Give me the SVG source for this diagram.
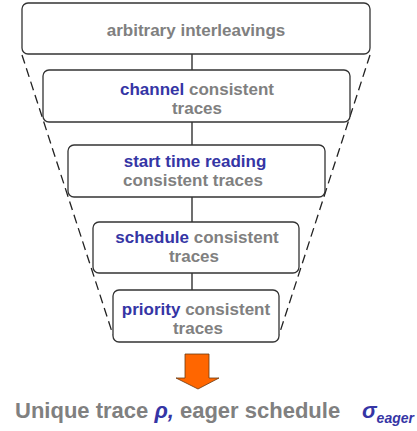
<svg xmlns="http://www.w3.org/2000/svg" width="417" height="431" viewBox="0 0 417 431">
<style>
.box{fill:#fff;stroke:#333;stroke-width:1.3}
.t{font-family:"Liberation Sans",Arial,sans-serif;font-weight:bold;font-size:17px;fill:#808080;text-anchor:middle}
.b{fill:#3535a5}
.conn{stroke:#222;stroke-width:1.3;fill:none}
.dash{stroke:#222;stroke-width:1.3;fill:none;stroke-dasharray:9,5}
</style>
<rect width="417" height="431" fill="#fff"/>
<g id="connectors">
<path class="dash" d="M22,55 L113,335"/>
<path class="dash" d="M370,55 L279,335"/>
<path class="conn" d="M192,54 V70 M192,122 V145 M192,197 V222 M192,273 V290"/>
</g>
<g id="n1">
<rect class="box" x="22" y="3" width="348" height="51" rx="6"/>
<text class="t" x="196" y="36">arbitrary interleavings</text>
</g>
<g id="n2">
<rect class="box" x="43" y="70" width="307" height="52" rx="6"/>
<text class="t" x="197" y="95"><tspan class="b">channel</tspan> consistent</text>
<text class="t" x="197" y="114">traces</text>
</g>
<g id="n3">
<rect class="box" x="68" y="145" width="257" height="52" rx="6"/>
<text class="t" x="195" y="167"><tspan class="b">start time reading</tspan></text>
<text class="t" x="193" y="186">consistent traces</text>
</g>
<g id="n4">
<rect class="box" x="93" y="222" width="206" height="51" rx="6"/>
<text class="t" x="197" y="243"><tspan class="b">schedule</tspan> consistent</text>
<text class="t" x="194" y="262">traces</text>
</g>
<g id="n5">
<rect class="box" x="113" y="290" width="166" height="52" rx="6"/>
<text class="t" x="196" y="315"><tspan class="b">priority</tspan> consistent</text>
<text class="t" x="198" y="334">traces</text>
</g>
<g id="arrow">
<path d="M185,354 H209 V378 H219 L198,389 L176,378 H185 Z" fill="#ff6600" stroke="#6b3a10" stroke-width="0.8"/>
</g>
<g id="result">
<text x="15" y="418" font-family="'Liberation Sans',Arial,sans-serif" font-weight="bold" font-size="22" fill="#808080">Unique trace <tspan fill="#3535a5" font-style="italic">ρ,</tspan> eager schedule</text>
<text x="362" y="418" font-family="'Liberation Sans',Arial,sans-serif" font-weight="bold" font-style="italic" font-size="22" fill="#3535a5">σ<tspan font-size="14" dy="5">eager</tspan></text>
</g>
</svg>
